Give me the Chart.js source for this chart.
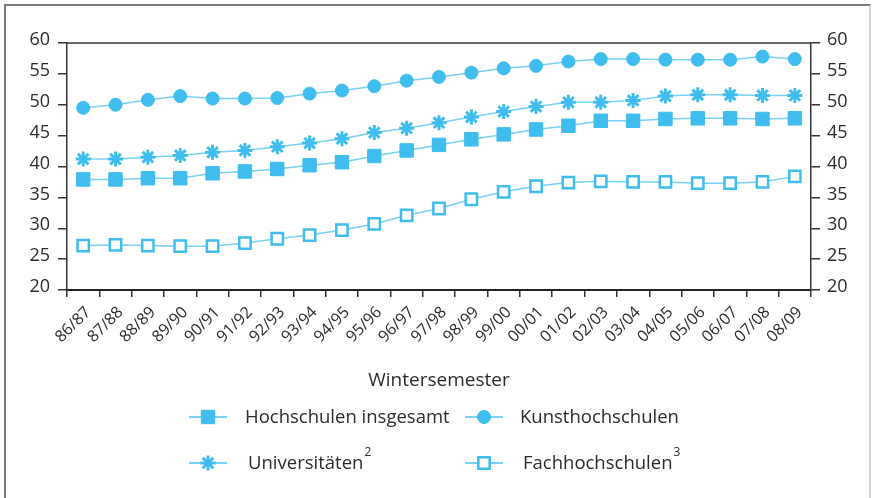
<!DOCTYPE html>
<html>
<head>
<meta charset="utf-8">
<script src="https://cdn.jsdelivr.net/npm/chart.js@4.4.1/dist/chart.umd.min.js"></script>
<style>
html, body { margin: 0; padding: 0; background: #fff; }
#rahmen { position: absolute; left: 4px; top: 4px; width: 867px; height: 500px; box-sizing: border-box;
  border-left: 2px solid #7c7c7c; border-top: 2px solid #7c7c7c; border-right: 2px solid #d2d2d2; }
#contenedor { position: absolute; left: 0; top: 0; width: 872px; height: 498px; }
</style>
</head>
<body>
<div id="rahmen"></div>
<div id="contenedor"><canvas id="grafico"></canvas></div>
<script>
// Datos
const semester = ['86/87', '87/88', '88/89', '89/90', '90/91', '91/92', '92/93', '93/94', '94/95', '95/96',
  '96/97', '97/98', '98/99', '99/00', '00/01', '01/02', '02/03', '03/04', '04/05', '05/06', '06/07', '07/08', '08/09'];

const hochschulenInsgesamt = [37.9, 37.9, 38.1, 38.1, 38.9, 39.2, 39.6, 40.2, 40.7, 41.7, 42.6, 43.5,
  44.4, 45.2, 46.0, 46.6, 47.4, 47.4, 47.7, 47.8, 47.8, 47.7, 47.8];
const kunsthochschulen = [49.5, 50.0, 50.8, 51.4, 51.0, 51.0, 51.1, 51.8, 52.3, 53.0, 53.9, 54.5,
  55.2, 55.9, 56.3, 57.0, 57.4, 57.4, 57.3, 57.3, 57.3, 57.8, 57.4];
const universitaeten = [41.2, 41.2, 41.5, 41.8, 42.3, 42.6, 43.2, 43.8, 44.5, 45.5, 46.2, 47.1,
  48.0, 48.9, 49.7, 50.4, 50.4, 50.7, 51.4, 51.6, 51.6, 51.5, 51.5];
const fachhochschulen = [27.2, 27.3, 27.2, 27.1, 27.1, 27.6, 28.3, 28.9, 29.7, 30.7, 32.1, 33.2,
  34.7, 35.9, 36.8, 37.4, 37.6, 37.5, 37.5, 37.3, 37.3, 37.5, 38.4];

const nombres = ['Hochschulen insgesamt', 'Kunsthochschulen', 'Universitäten', 'Fachhochschulen'];
const indices = ['', '', '2', '3'];
const yMin = 20, yMax = 60, yPaso = 5;
const tituloX = 'Wintersemester';

const azul = '#3ebdee';
const azulLinea = '#78d0f2';
const fuente = "'Open Sans', sans-serif";

Chart.defaults.font.family = fuente;
Chart.defaults.color = '#2b2b2b';

// Leyenda y marco superior dibujados a mano
const pluginLeyenda = {
  id: 'leyenda',
  afterDraw(chart) {
    const ctx = chart.ctx;
    const area = chart.chartArea;
    ctx.save();
    ctx.strokeStyle = '#333';
    ctx.lineWidth = 1.5;
    ctx.beginPath();
    ctx.moveTo(area.left, area.top);
    ctx.lineTo(area.right, area.top);
    ctx.stroke();

    ctx.fillStyle = '#2b2b2b';
    ctx.font = '19px ' + fuente;
    ctx.textAlign = 'center';
    ctx.textBaseline = 'middle';
    ctx.fillText(tituloX, 439, 381);

    const colSimbolo = [189, 465];
    const colTexto = [245, 520];
    const filas = [417, 463];
    chart.data.datasets.forEach((ds, i) => {
      const col = i % 2, fila = Math.floor(i / 2);
      const x0 = colSimbolo[col], y = filas[fila];
      ctx.strokeStyle = azulLinea;
      ctx.lineWidth = 2;
      ctx.beginPath();
      ctx.moveTo(x0, y);
      ctx.lineTo(x0 + 38, y);
      ctx.stroke();
      ctx.fillStyle = ds.pointBackgroundColor;
      ctx.strokeStyle = ds.pointBorderColor;
      ctx.lineWidth = ds.pointBorderWidth;
      Chart.helpers.drawPoint(ctx, {
        pointStyle: ds.pointStyle, radius: ds.pointRadius, rotation: 0, borderWidth: ds.pointBorderWidth
      }, x0 + 19, y);

      ctx.fillStyle = '#2b2b2b';
      ctx.font = '18.5px ' + fuente;
      ctx.textAlign = 'left';
      ctx.textBaseline = 'middle';
      const xt = colTexto[col] + (indices[i] ? 3 : 0);
      ctx.fillText(nombres[i], xt, y + 1);
      if (indices[i]) {
        const w = ctx.measureText(nombres[i]).width;
        ctx.font = '12px ' + fuente;
        ctx.fillText(indices[i], xt + w + 1, y - 10);
      }
    });
    ctx.restore();
  }
};

function serie(etiqueta, datos, estilo, radio, relleno, borde) {
  return {
    label: etiqueta,
    data: datos,
    borderColor: azulLinea,
    borderWidth: 1.5,
    tension: 0,
    pointStyle: estilo,
    pointRadius: radio,
    pointHoverRadius: radio,
    pointBackgroundColor: relleno,
    pointBorderColor: azul,
    pointBorderWidth: borde,
    yAxisID: 'y'
  };
}

const ejeY = (pos, ancho, margen) => ({
  position: pos,
  min: yMin,
  max: yMax,
  afterFit: s => { s.width = ancho; },
  ticks: { stepSize: yPaso, padding: margen, labelOffset: -3, font: { size: 18 }, color: '#2b2b2b' },
  grid: { drawOnChartArea: false, tickLength: 9, color: '#333', lineWidth: 1.5 },
  border: { display: true, color: '#333', width: 1.5 }
});

const ctx = document.getElementById('grafico').getContext('2d');
new Chart(ctx, {
  type: 'line',
  data: {
    labels: semester,
    datasets: [
      serie(nombres[0], hochschulenInsgesamt, 'rect', 9.5, azul, 1),
      serie(nombres[1], kunsthochschulen, 'circle', 6.5, azul, 1),
      serie(nombres[2], universitaeten, 'star', 7.5, azul, 3),
      serie(nombres[3], fachhochschulen, 'rect', 8, '#ffffff', 2.5)
    ]
  },
  options: {
    responsive: true,
    maintainAspectRatio: false,
    animation: false,
    layout: { padding: { top: 43, left: 0, right: 0, bottom: 0 } },
    plugins: { legend: { display: false }, tooltip: { enabled: false } },
    scales: {
      x: {
        offset: true,
        afterFit: s => { s.height = 208; },
        ticks: { autoSkip: false, minRotation: 45, maxRotation: 45, padding: 6, labelOffset: 5, font: { size: 16 }, color: '#2b2b2b' },
        grid: { offset: true, drawOnChartArea: false, tickLength: 7, color: '#333', lineWidth: 1.5 },
        border: { display: true, color: '#222', width: 2 }
      },
      y: ejeY('left', 67, 8),
      y2: ejeY('right', 61, 7)
    }
  },
  plugins: [pluginLeyenda]
});
</script>
</body>
</html>
